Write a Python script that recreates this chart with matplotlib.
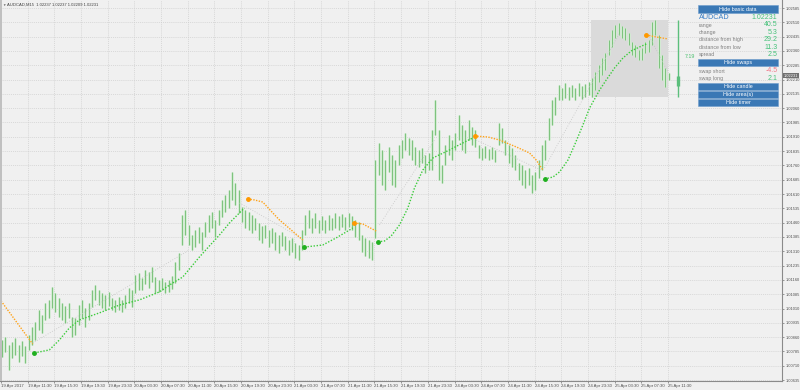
import matplotlib
matplotlib.use('Agg')
import matplotlib.pyplot as plt
from matplotlib.patches import Rectangle
import numpy as np

plt.rcParams['font.family'] = ['Liberation Sans', 'DejaVu Sans']

# AUDCAD M15, read as half-hour bars (each one spans two M15 slots)
bar_high = [1.00845, 1.00861, 1.00819, 1.00835, 1.00856, 1.00819, 1.00840, 1.00814, 1.00871, 1.00913,
            1.00941, 1.01002, 1.00976, 1.01039, 1.01055, 1.01123, 1.01091, 1.01065, 1.01039, 1.01023,
            1.01039, 1.00966, 1.00960, 1.01028, 1.01055, 1.01013, 1.01039, 1.01107, 1.01133, 1.01107,
            1.01091, 1.01081, 1.01097, 1.01065, 1.01055, 1.01070, 1.01055, 1.01081, 1.01118, 1.01107,
            1.01186, 1.01196, 1.01170, 1.01212, 1.01201, 1.01228, 1.01175, 1.01160, 1.01170, 1.01149,
            1.01160, 1.01180, 1.01254, 1.01301, 1.01500, 1.01526, 1.01448, 1.01395, 1.01422, 1.01437,
            1.01411, 1.01463, 1.01500, 1.01516, 1.01474, 1.01526, 1.01579, 1.01605, 1.01631, 1.01726,
            1.01668, 1.01631, 1.01542, 1.01526, 1.01516, 1.01500, 1.01484, 1.01458, 1.01443, 1.01448,
            1.01422, 1.01432, 1.01411, 1.01395, 1.01411, 1.01390, 1.01369, 1.01380, 1.01353, 1.01343,
            1.01422, 1.01500, 1.01526, 1.01484, 1.01511, 1.01474, 1.01495, 1.01474, 1.01500, 1.01484,
            1.01511, 1.01495, 1.01505, 1.01490, 1.01511, 1.01495, 1.01474, 1.01463, 1.01395, 1.01380,
            1.01369, 1.01359, 1.01788, 1.01878, 1.01841, 1.01788, 1.01857, 1.01815, 1.01788, 1.01867,
            1.01893, 1.01930, 1.01904, 1.01893, 1.01857, 1.01841, 1.01851, 1.01815, 1.01825, 1.01946,
            1.02103, 1.01946, 1.01762, 1.01867, 1.01919, 1.01893, 1.01930, 1.02024, 1.01972, 1.01946,
            1.01998, 1.01961, 1.01946, 1.01867, 1.01851, 1.01862, 1.01846, 1.01857, 1.01841, 1.01982,
            1.01956, 1.01893, 1.01867, 1.01851, 1.01815, 1.01773, 1.01762, 1.01736, 1.01747, 1.01710,
            1.01726, 1.01788, 1.01867, 1.01893, 1.02009, 1.02103, 1.02119, 1.02182, 1.02166, 1.02192,
            1.02171, 1.02182, 1.02166, 1.02192, 1.02176, 1.02187, 1.02197, 1.02218, 1.02250, 1.02286,
            1.02323, 1.02349, 1.02417, 1.02470, 1.02496, 1.02506, 1.02491, 1.02480, 1.02454, 1.02407,
            1.02391, 1.02365, 1.02375, 1.02407, 1.02417, 1.02512, 1.02523, 1.02444, 1.02339, 1.02271,
            1.02244]
bar_low = [1.00756, 1.00782, 1.00688, 1.00751, 1.00766, 1.00730, 1.00761, 1.00724, 1.00793, 1.00819,
           1.00845, 1.00897, 1.00882, 1.00950, 1.00960, 1.01013, 1.00992, 1.00966, 1.00950, 1.00934,
           1.00960, 1.00861, 1.00871, 1.00924, 1.00960, 1.00913, 1.00950, 1.01018, 1.01055, 1.01028,
           1.01013, 1.01002, 1.01023, 1.01002, 1.00992, 1.01002, 1.00992, 1.01013, 1.01039, 1.01018,
           1.01091, 1.01107, 1.01107, 1.01139, 1.01118, 1.01149, 1.01091, 1.01097, 1.01107, 1.01091,
           1.01097, 1.01112, 1.01144, 1.01212, 1.01343, 1.01395, 1.01343, 1.01317, 1.01332, 1.01353,
           1.01317, 1.01385, 1.01411, 1.01432, 1.01385, 1.01448, 1.01490, 1.01516, 1.01537, 1.01579,
           1.01553, 1.01511, 1.01463, 1.01432, 1.01422, 1.01406, 1.01422, 1.01369, 1.01353, 1.01380,
           1.01332, 1.01353, 1.01317, 1.01301, 1.01338, 1.01317, 1.01291, 1.01306, 1.01275, 1.01264,
           1.01317, 1.01395, 1.01432, 1.01406, 1.01432, 1.01406, 1.01422, 1.01406, 1.01422, 1.01422,
           1.01432, 1.01422, 1.01437, 1.01422, 1.01437, 1.01422, 1.01385, 1.01369, 1.01306, 1.01285,
           1.01275, 1.01264, 1.01380, 1.01710, 1.01657, 1.01631, 1.01726, 1.01657, 1.01647, 1.01762,
           1.01799, 1.01841, 1.01815, 1.01788, 1.01762, 1.01752, 1.01773, 1.01720, 1.01736, 1.01736,
           1.01919, 1.01684, 1.01668, 1.01762, 1.01815, 1.01788, 1.01841, 1.01893, 1.01841, 1.01825,
           1.01893, 1.01867, 1.01857, 1.01799, 1.01788, 1.01799, 1.01788, 1.01794, 1.01778, 1.01867,
           1.01878, 1.01815, 1.01773, 1.01752, 1.01736, 1.01684, 1.01657, 1.01642, 1.01657, 1.01615,
           1.01631, 1.01694, 1.01736, 1.01788, 1.01893, 1.01972, 1.02024, 1.02103, 1.02103, 1.02113,
           1.02103, 1.02119, 1.02103, 1.02124, 1.02108, 1.02119, 1.02129, 1.02118, 1.02155, 1.02197,
           1.02234, 1.02260, 1.02339, 1.02381, 1.02428, 1.02444, 1.02428, 1.02417, 1.02391, 1.02339,
           1.02328, 1.02313, 1.02313, 1.02349, 1.02354, 1.02391, 1.02444, 1.02271, 1.02208, 1.02171,
           1.02208]

time_labels = ['19 Apr 2017', '19 Apr 11:30', '19 Apr 15:30', '19 Apr 19:30', '19 Apr 23:30',
               '20 Apr 03:30', '20 Apr 07:30', '20 Apr 11:30', '20 Apr 15:30', '20 Apr 19:30',
               '20 Apr 23:30', '21 Apr 03:30', '21 Apr 07:30', '21 Apr 11:30', '21 Apr 15:30',
               '21 Apr 19:30', '21 Apr 23:30', '24 Apr 03:30', '24 Apr 07:30', '24 Apr 11:30',
               '24 Apr 15:30', '24 Apr 19:30', '24 Apr 23:30', '25 Apr 03:30', '25 Apr 07:30',
               '25 Apr 11:30']

# regression curves (M15 bar index, price); first point carries the dot
orange_curves = [
    ([0, 19], [1.01050, 1.00824]),
    ([148, 152, 157, 163, 167, 172, 181], [1.01584, 1.01579, 1.01568, 1.01511, 1.01474, 1.01437, 1.01369]),
    ([212, 217, 225], [1.01458, 1.01453, 1.01416]),
    ([284, 292, 299, 309, 317, 321, 325], [1.01914, 1.01909, 1.01893, 1.01857, 1.01825, 1.01788, 1.01736]),
    ([387, 393, 400], [1.02444, 1.02433, 1.02423]),
]
green_curves = [
    ([20, 29, 35, 41, 47, 59, 71, 83, 95, 103, 109, 115, 119, 125, 131, 137, 143, 146],
     [1.00777, 1.00793, 1.00845, 1.00908, 1.00950, 1.00987, 1.01028, 1.01055, 1.01097, 1.01144,
      1.01175, 1.01238, 1.01280, 1.01338, 1.01395, 1.01458, 1.01511, 1.01537]),
    ([182, 193, 201, 207, 211], [1.01332, 1.01343, 1.01380, 1.01411, 1.01432]),
    ([226, 230, 234, 239, 244, 248, 253, 259, 269, 277, 283],
     [1.01359, 1.01364, 1.01390, 1.01448, 1.01537, 1.01642, 1.01736, 1.01799, 1.01841, 1.01878, 1.01904]),
    ([326, 331, 335, 340, 344, 349, 353, 359, 363, 368, 373, 378, 383, 387],
     [1.01689, 1.01699, 1.01726, 1.01788, 1.01867, 1.01972, 1.02061, 1.02155, 1.02208, 1.02271,
      1.02323, 1.02360, 1.02381, 1.02396]),
]
gray_lines = [
    ([19, 113], [1.00829, 1.01317]),
    ([143, 180], [1.01563, 1.01380]),
    ([227, 260], [1.01448, 1.01893]),
    ([285, 324], [1.01893, 1.01736]),
    ([326, 371], [1.01747, 1.02454]),
    ([389, 400], [1.02433, 1.02250]),
]

# today's figures
day_start = 354
day_high = 1.02523
day_low = 1.02118
day_open = 1.02178
last_price = 1.02231
ohlc_title = 'AUDCAD,M15  1.02237 1.02237 1.02209 1.02231'
timer_text = '7:19'

basic_names = ['range', 'change', 'distance from high', 'distance from low', 'spread']
basic_values = ['40.5', '5.3', '29.2', '11.3', '2.5']
swap_names = ['swap short', 'swap long']
swap_values = ['-4.5', '2.1']

bg = '#f0f0f0'
fig = plt.figure(figsize=(8, 3.9), dpi=100, facecolor=bg)
ax = fig.add_axes([0, 9 / 390, 782 / 800, 381 / 390])
ax.set_facecolor(bg)

bar_x = np.arange(len(bar_high)) * 2 + 0.5
ax.vlines(bar_x, bar_low, bar_high, color='#d3ebd3', lw=2.0, zorder=2)
ax.vlines(bar_x, bar_low, bar_high, color='#7cc27c', lw=0.7, zorder=3)

# today's area
ax.add_patch(Rectangle((day_start, day_low), 400 - day_start, day_high - day_low,
                       facecolor='#dadada', edgecolor='none', zorder=1))

for xs, ys in gray_lines:
    ax.plot(xs, ys, color='#c4c4c4', lw=0.6, ls=(0, (1, 2)), zorder=4)
for xs, ys in orange_curves:
    ax.plot(xs, ys, color='#ffa31a', lw=1.0, ls=(0, (1, 1)), zorder=5)
for xs, ys in orange_curves[1:]:
    ax.plot(xs[0], ys[0], 'o', color='#ff9900', ms=2.5, zorder=6)
for xs, ys in green_curves:
    ax.plot(xs, ys, color='#3ccc3c', lw=1.0, ls=(0, (1, 1.2)), zorder=5)
    ax.plot(xs[0], ys[0], 'o', color='#1fb01f', ms=2.5, zorder=6)

# daily candle + timer
ax.vlines(406, day_low, day_high, color='#5cbf7c', lw=1.0, zorder=5)
ax.vlines(406, day_open, last_price, color='#5cbf7c', lw=2.4, zorder=5)
ax.text(410, (day_high + day_low) / 2 + 0.00012, timer_text, color='#4cbf70', fontsize=3.8,
        va='center', ha='left')

ax.set_xlim(-0.6, 468.4)
ax.set_ylim(1.00630, 1.02627)

ax.set_xticks(np.arange(len(time_labels)) * 16)
ax.set_xticklabels(time_labels, ha='left', fontsize=3.1, color='#505050')
yt = np.arange(1.00635, 1.02590, 0.00075)
ax.set_yticks(yt)
ax.set_yticklabels(['%.5f' % v for v in yt], fontsize=2.9, color='#505050')
ax.yaxis.tick_right()
ax.tick_params(axis='both', length=1.5, width=0.5, color='#707070', pad=1)
ax.grid(True, color='#cfcfcf', lw=0.5, ls=(0, (1.5, 1.5)))
ax.set_axisbelow(True)
for s in ['left', 'top']:
    ax.spines[s].set_visible(False)
for s in ['right', 'bottom']:
    ax.spines[s].set_color('#8a8a8a')
    ax.spines[s].set_linewidth(0.8)

ax.annotate('%.5f' % last_price, xy=(1.0, last_price), xycoords=('axes fraction', 'data'),
            xytext=(1.2, 0), textcoords='offset points', ha='left', va='center',
            fontsize=2.9, color='white',
            bbox=dict(boxstyle='square,pad=0.15', fc='#707070', ec='none'))

# overlay in pixel units for panel and title
ov = fig.add_axes([0, 0, 1, 1], zorder=10)
ov.set_xlim(0, 800)
ov.set_ylim(390, 0)
ov.axis('off')
ov.patch.set_visible(False)
ov.add_patch(Rectangle((0, 0), 2.2, 381, facecolor='#c0c0c0', edgecolor='none'))
ov.text(2, 5, '\u25bc', fontsize=2.5, color='#606060', va='center')
ov.text(7, 5, ohlc_title, fontsize=3.0, color='#404040', va='center')

btn_fc = '#3a78b5'


def button(y0, y1, label):
    ov.add_patch(Rectangle((698, y0), 80, y1 - y0, facecolor=btn_fc, edgecolor='#6d9ccc', lw=0.4))
    ov.text(738, (y0 + y1) / 2, label, color='white', fontsize=3.9, ha='center', va='center')


button(4.8, 13.3, 'Hide basic data')
ov.text(699, 17.5, 'AUDCAD', color='#3a7fc6', fontsize=5.2, va='center')
ov.text(777.5, 17.5, '%.5f' % last_price, color='#46c27a', fontsize=5.0, va='center', ha='right')
for k, (n, v) in enumerate(zip(basic_names, basic_values)):
    y = 25 + 7.4 * k
    ov.text(699, y, n, color='#808080', fontsize=3.8, va='center')
    ov.text(777.5, y, v, color='#46c27a', fontsize=5.0, va='center', ha='right')
button(59, 66.3, 'Hide swaps')
for k, (n, v) in enumerate(zip(swap_names, swap_values)):
    y = 71 + 7.5 * k
    ov.text(699, y, n, color='#808080', fontsize=3.8, va='center')
    ov.text(777.5, y, v, color='#f07a8a' if v.startswith('-') else '#46c27a',
            fontsize=5.0, va='center', ha='right')
button(83, 89.6, 'Hide candle')
button(91, 98, 'Hide area(s)')
button(99, 106, 'Hide timer')

fig.savefig('out.png', dpi=100, facecolor=bg)
